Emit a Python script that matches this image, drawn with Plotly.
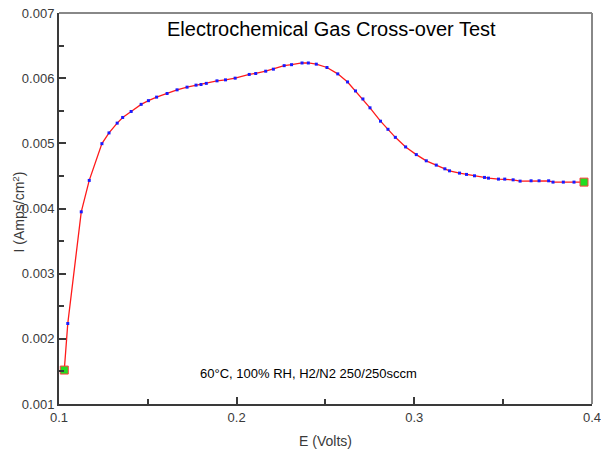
import plotly.graph_objects as go

# E (Volts)
volts = [0.10298, 0.10494, 0.11253, 0.11702, 0.12416, 0.12815, 0.13275, 0.13584,
         0.14062, 0.14624, 0.15034, 0.15494, 0.16084, 0.16646, 0.17208, 0.17713,
         0.17994, 0.18292, 0.18893, 0.19371, 0.19916, 0.20708, 0.21073, 0.21635,
         0.22067, 0.22674, 0.23090, 0.23680, 0.24034, 0.24483, 0.25084, 0.25691,
         0.26242, 0.26691, 0.27107, 0.27506, 0.28096, 0.28517, 0.28933, 0.29511,
         0.30112, 0.30674, 0.31236, 0.31719, 0.31983, 0.32545, 0.32938, 0.33388,
         0.33949, 0.34174, 0.34736, 0.35090, 0.35562, 0.35955, 0.36573, 0.37022,
         0.37562, 0.37809, 0.38388, 0.38989, 0.39551]
# I (Amps/cm2)
current = [0.001521, 0.002235, 0.003949, 0.004431, 0.004995, 0.005160, 0.005310, 0.005397,
           0.005489, 0.005598, 0.005655, 0.005709, 0.005765, 0.005821, 0.005862, 0.005893,
           0.005903, 0.005920, 0.005959, 0.005974, 0.006000, 0.006057, 0.006072, 0.006107,
           0.006138, 0.006192, 0.006207, 0.006233, 0.006233, 0.006215, 0.006164, 0.006066,
           0.005942, 0.005804, 0.005681, 0.005545, 0.005340, 0.005215, 0.005092, 0.004945,
           0.004827, 0.004732, 0.004666, 0.004609, 0.004578, 0.004543, 0.004523, 0.004502,
           0.004477, 0.004466, 0.004451, 0.004451, 0.004440, 0.004420, 0.004425, 0.004425,
           0.004425, 0.004405, 0.004405, 0.004405, 0.004405]

x_ticks = [0.1, 0.2, 0.3, 0.4]
y_ticks = [0.001, 0.002, 0.003, 0.004, 0.005, 0.006, 0.007]

title_text = "Electrochemical Gas Cross-over Test"
note_text = "60°C, 100% RH, H2/N2 250/250sccm"
x_title = "E (Volts)"
y_title = "I (Amps/cm<sup>2</sup>)"

FONT = "Liberation Sans, Arial, sans-serif"
AXC = "#3a3a3a"

fig = go.Figure()
fig.add_trace(go.Scatter(
    x=volts, y=current, mode="lines+markers",
    line=dict(color="#ff1a1a", width=1.3),
    marker=dict(symbol="square", size=3, color="#1a1aff", line=dict(width=0)),
    showlegend=False, hoverinfo="skip"))
fig.add_trace(go.Scatter(
    x=[volts[0], volts[-1]], y=[current[0], current[-1]], mode="markers",
    marker=dict(symbol="square", size=8, color="#22dd22", line=dict(color="#ff4040", width=1)),
    showlegend=False, hoverinfo="skip"))

fig.update_layout(
    width=601, height=452,
    margin=dict(l=59, r=9, t=13, b=48),
    paper_bgcolor="white", plot_bgcolor="white",
    font=dict(family=FONT, color=AXC, size=13),
    xaxis=dict(range=[0.1, 0.40002], tickvals=x_ticks, ticktext=[str(v) for v in x_ticks],
               automargin=False,
               ticks="inside", ticklen=7, tickwidth=1.5, tickcolor=AXC,
               showline=True, linecolor=AXC, linewidth=2, showgrid=False, zeroline=False,
               minor=dict(dtick=0.05, tick0=0.1, ticks="inside", ticklen=5, tickwidth=1.5, tickcolor=AXC),
               title=dict(text=x_title, font=dict(size=14, color=AXC), standoff=13),
               tickfont=dict(size=13, color=AXC)),
    yaxis=dict(range=[0.001, 0.00700002], tickvals=y_ticks, ticktext=[str(v) for v in y_ticks],
               automargin=False,
               ticks="inside", ticklen=7, tickwidth=1.5, tickcolor=AXC,
               showline=True, linecolor=AXC, linewidth=2, showgrid=False, zeroline=False,
               minor=dict(dtick=0.0005, tick0=0.001, ticks="inside", ticklen=5, tickwidth=1.5, tickcolor=AXC),
               tickfont=dict(size=13, color=AXC)),
    shapes=[
        dict(type="line", xref="paper", yref="paper", x0=0, x1=1, y0=1, y1=1,
             line=dict(color="#888888", width=2)),
        dict(type="line", xref="paper", yref="paper", x0=1, x1=1, y0=0, y1=1,
             line=dict(color="#888888", width=2)),
    ],
    annotations=[
        dict(text=title_text, xref="paper", yref="paper", x=0.511, y=0.96,
             xanchor="center", yanchor="middle", showarrow=False,
             font=dict(size=20, color="black", family=FONT)),
        dict(text=note_text, xref="paper", yref="paper", x=0.468, y=0.079,
             xanchor="center", yanchor="middle", showarrow=False,
             font=dict(size=13, color="black", family=FONT)),
        dict(text=y_title, xref="paper", yref="paper", x=-0.075, y=0.49,
             xanchor="center", yanchor="middle", showarrow=False, textangle=-90,
             font=dict(size=14, color=AXC, family=FONT)),
    ],
)

fig.write_html("out.html")
